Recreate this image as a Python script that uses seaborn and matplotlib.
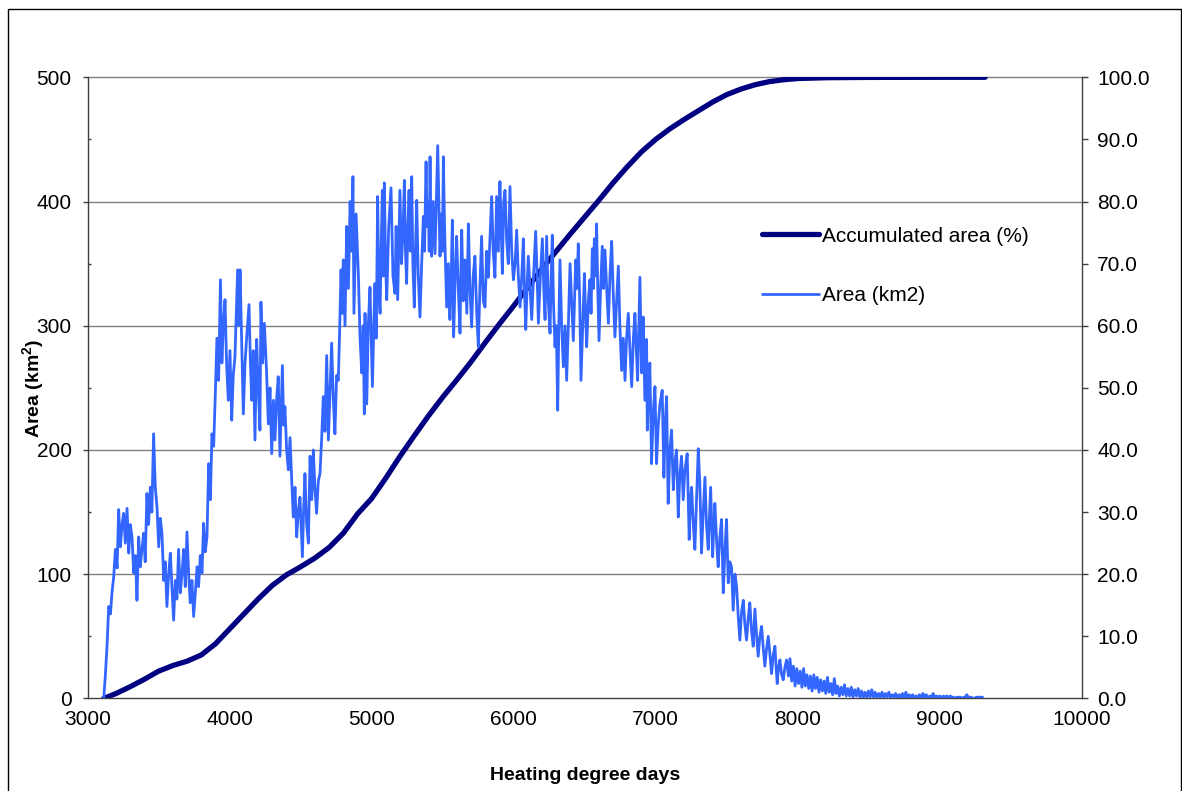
import numpy as np
import pandas as pd
import matplotlib
matplotlib.use("Agg")
import matplotlib.pyplot as plt
from matplotlib.patches import Rectangle
from matplotlib.ticker import MultipleLocator, FormatStrFormatter
import seaborn as sns

# Accumulated burnt area (%) against heating degree days
acc_hdd = [3113, 3200, 3300, 3400, 3500, 3600, 3700, 3800, 3900, 4000,
           4100, 4200, 4300, 4400, 4500, 4600, 4700, 4800, 4900, 5000,
           5100, 5200, 5300, 5400, 5500, 5600, 5700, 5800, 5900, 6000,
           6100, 6200, 6300, 6400, 6500, 6600, 6700, 6800, 6900, 7000,
           7100, 7200, 7300, 7400, 7500, 7600, 7700, 7800, 7900, 8000,
           8200, 8500, 9000, 9320]
acc_pct = [0.0, 0.8, 1.9, 3.1, 4.4, 5.3, 6.0, 7.0, 8.8, 11.2,
           13.6, 16.0, 18.2, 19.9, 21.2, 22.6, 24.3, 26.6, 29.7, 32.2,
           35.5, 39.0, 42.3, 45.5, 48.5, 51.3, 54.2, 57.3, 60.3, 63.2,
           66.2, 69.2, 72.0, 74.8, 77.5, 80.2, 83.0, 85.6, 88.0, 90.0,
           91.7, 93.2, 94.6, 96.0, 97.2, 98.1, 98.8, 99.3, 99.6, 99.8,
           99.93, 99.98, 100.0, 100.0]

# Area (km2) per heating-degree-day class
area_hdd = [
    3113, 3125, 3136, 3148, 3160, 3171, 3183, 3195, 3207, 3218, 3230, 3242, 3253, 3265, 3277, 3289,
    3300, 3312, 3324, 3336, 3347, 3359, 3370, 3382, 3394, 3405, 3417, 3429, 3441, 3452, 3464, 3476,
    3488, 3500, 3511, 3523, 3535, 3546, 3558, 3570, 3582, 3593, 3605, 3617, 3628, 3640, 3652, 3664,
    3676, 3687, 3699, 3711, 3722, 3734, 3746, 3758, 3770, 3781, 3793, 3805, 3816, 3828, 3840, 3852,
    3864, 3875, 3887, 3899, 3910, 3922, 3935, 3945, 3955, 3967, 3978, 3990, 4002, 4014, 4025, 4037,
    4056, 4065, 4073, 4084, 4096, 4108, 4120, 4136, 4146, 4155, 4166, 4178, 4190, 4201, 4213, 4220,
    4232, 4244, 4260, 4272, 4284, 4296, 4308, 4319, 4330, 4342, 4354, 4371, 4380, 4389, 4401, 4413,
    4425, 4436, 4448, 4460, 4472, 4483, 4495, 4512, 4520, 4530, 4542, 4554, 4566, 4578, 4589, 4600,
    4612, 4624, 4636, 4648, 4659, 4671, 4683, 4695, 4707, 4718, 4730, 4741, 4753, 4765, 4775, 4784,
    4792, 4800, 4812, 4824, 4836, 4848, 4859, 4868, 4875, 4890, 4906, 4918, 4930, 4940, 4948, 4953,
    4965, 4976, 4988, 5005, 5015, 5023, 5032, 5042, 5050, 5059, 5068, 5075, 5082, 5089, 5098, 5106,
    5120, 5136, 5150, 5164, 5172, 5183, 5190, 5199, 5210, 5222, 5230, 5238, 5246, 5255, 5263, 5272,
    5282, 5290, 5300, 5308, 5317, 5328, 5340, 5352, 5364, 5372, 5383, 5390, 5399, 5405, 5411, 5416,
    5422, 5433, 5446, 5455, 5465, 5473, 5481, 5490, 5498, 5505, 5510, 5516, 5522, 5528, 5540, 5551,
    5560, 5568, 5577, 5588, 5598, 5610, 5622, 5628, 5634, 5645, 5657, 5670, 5681, 5692, 5704, 5715,
    5727, 5740, 5751, 5762, 5774, 5786, 5798, 5810, 5821, 5833, 5845, 5856, 5868, 5880, 5892, 5903,
    5912, 5920, 5930, 5939, 5950, 5962, 5974, 5986, 5998, 6010, 6021, 6033, 6045, 6057, 6068, 6076,
    6085, 6094, 6103, 6115, 6127, 6140, 6155, 6165, 6174, 6188, 6202, 6212, 6221, 6232, 6244, 6256,
    6264, 6272, 6280, 6291, 6300, 6310, 6318, 6326, 6338, 6350, 6362, 6373, 6385, 6397, 6408, 6420,
    6428, 6437, 6446, 6455, 6465, 6474, 6486, 6498, 6506, 6514, 6526, 6537, 6545, 6554, 6561, 6568,
    6576, 6584, 6592, 6601, 6612, 6624, 6633, 6643, 6655, 6667, 6678, 6690, 6700, 6713, 6725, 6737,
    6748, 6760, 6772, 6784, 6795, 6807, 6819, 6831, 6843, 6854, 6864, 6873, 6889, 6901, 6912, 6924,
    6936, 6941, 6950, 6959, 6971, 6983, 6995, 7006, 7018, 7030, 7046, 7058, 7067, 7077, 7088, 7100,
    7112, 7124, 7135, 7147, 7159, 7170, 7182, 7194, 7206, 7222, 7236, 7245, 7253, 7265, 7276, 7288,
    7300, 7311, 7323, 7335, 7347, 7358, 7370, 7380, 7387, 7401, 7410, 7417, 7430, 7440, 7452, 7464,
    7476, 7488, 7499, 7511, 7522, 7534, 7546, 7558, 7570, 7582, 7593, 7605, 7617, 7628, 7640, 7652,
    7663, 7675, 7687, 7699, 7711, 7722, 7734, 7746, 7758, 7769, 7781, 7793, 7805, 7816, 7828, 7840,
    7848, 7856, 7865, 7875, 7886, 7898, 7910, 7922, 7935,
    7946, 7958, 7970, 7982, 7994, 8006, 8018, 8030, 8042, 8054, 8066, 8078, 8090, 8102, 8114, 8126,
    8138, 8150, 8162, 8174, 8186, 8198, 8210, 8222, 8234, 8246, 8258, 8270, 8282, 8294, 8306, 8318,
    8330, 8342, 8354, 8366, 8378, 8390, 8402, 8414, 8426, 8438, 8450, 8462, 8474, 8486, 8498, 8510,
    8522, 8534, 8546, 8558, 8570, 8582, 8594, 8606, 8618, 8630, 8642, 8654, 8666, 8678, 8690, 8702,
    8714, 8726, 8738, 8750, 8762, 8774, 8786, 8798, 8810, 8822, 8834, 8846, 8858, 8870, 8882, 8894,
    8906, 8918, 8930, 8942, 8954, 8966, 8978, 8990, 9002, 9014, 9026, 9038, 9050, 9062, 9074, 9086,
    9098, 9110, 9122, 9134, 9146, 9158, 9170, 9182, 9190, 9202, 9220, 9240, 9260, 9280, 9302]
area_km2 = [
    0, 20, 42, 74, 68, 85, 98, 120, 105, 152, 122, 140, 149, 125, 153, 117,
    140, 130, 101, 115, 79, 130, 106, 120, 133, 110, 165, 140, 170, 150, 213, 170,
    154, 122, 145, 133, 95, 110, 74, 100, 117, 90, 63, 95, 80, 120, 85, 100,
    120, 90, 134, 100, 77, 95, 66, 85, 106, 90, 115, 101, 141, 118, 130, 189,
    160, 213, 203, 246, 290, 256, 337, 270, 300, 321, 270, 240, 280, 224, 260, 275,
    345, 300, 345, 289, 229, 270, 291, 317, 270, 240, 280, 208, 289, 250, 216, 319,
    270, 302, 262, 221, 250, 197, 240, 208, 240, 259, 195, 268, 220, 235, 200, 184,
    210, 178, 146, 170, 130, 150, 162, 114, 150, 181, 140, 125, 195, 160, 200, 170,
    149, 175, 181, 210, 243, 215, 276, 208, 250, 286, 240, 213, 260, 256, 300, 345,
    310, 353, 300, 380, 330, 400, 360, 420, 310, 390, 342, 290, 262, 300, 229, 310,
    237, 300, 331, 251, 300, 334, 290, 404, 330, 310, 370, 409, 340, 415, 350, 321,
    380, 411, 340, 326, 380, 321, 360, 409, 350, 380, 417, 360, 334, 380, 409, 360,
    420, 350, 315, 360, 401, 340, 307, 350, 388, 360, 432, 380, 399, 360, 436, 380,
    356, 400, 358, 400, 445, 400, 356, 390, 360, 436, 400, 366, 340, 315, 350, 305,
    340, 385, 291, 340, 372, 330, 294, 340, 377, 320, 353, 310, 382, 330, 299, 340,
    356, 310, 283, 330, 372, 320, 315, 360, 339, 370, 404, 360, 339, 404, 360, 416,
    380, 342, 400, 409, 370, 350, 412, 360, 337, 350, 377, 340, 315, 340, 370, 330,
    297, 330, 356, 330, 305, 340, 376, 340, 302, 340, 370, 330, 305, 372, 320, 294,
    340, 373, 320, 283, 300, 232, 300, 353, 300, 267, 300, 256, 300, 350, 320, 288,
    320, 353, 330, 366, 320, 256, 300, 342, 310, 283, 320, 337, 310, 362, 330, 370,
    340, 382, 330, 288, 330, 364, 330, 361, 330, 302, 340, 368, 330, 291, 320, 348,
    300, 264, 290, 256, 290, 310, 280, 251, 290, 310, 280, 256, 339, 262, 307, 240,
    289, 216, 250, 270, 189, 230, 251, 189, 220, 237, 248, 178, 220, 243, 157, 200,
    216, 168, 190, 200, 146, 180, 195, 160, 184, 197, 128, 160, 170, 140, 120, 160,
    201, 173, 117, 150, 178, 140, 120, 150, 170, 114, 140, 157, 125, 106, 130, 144,
    85, 120, 144, 93, 110, 106, 71, 100, 90, 65, 47, 70, 79, 60, 47, 65,
    77, 55, 42, 72, 50, 34, 50, 58, 40, 26, 40, 50, 35, 20, 35, 42,
    25, 12, 25, 31, 20, 15, 25, 31, 18,
    32, 14, 26, 10, 24, 12, 22, 9, 24, 10, 19, 8, 18, 6, 19, 8,
    17, 5, 15, 6, 14, 4, 17, 5, 12, 3, 16, 4, 10, 2, 9, 3,
    11, 2, 8, 2, 9, 1, 7, 2, 8, 1, 6, 1, 5, 1, 6, 1,
    7, 1, 5, 1, 4, 1, 5, 1, 4, 1, 5, 1, 3, 1, 4, 0,
    3, 1, 4, 0, 5, 0, 3, 1, 3, 0, 2, 1, 3, 0, 4, 1,
    3, 0, 2, 1, 4, 0, 2, 1, 2, 0, 2, 1, 2, 0, 2, 1,
    1, 0, 1, 1, 1, 0, 1, 1, 3, 1, 1, 0, 1, 1, 1]

# Axis tick values
x_ticks = [3000, 4000, 5000, 6000, 7000, 8000, 9000, 10000]
area_ticks = [0, 100, 200, 300, 400, 500]
pct_ticks = [0, 10, 20, 30, 40, 50, 60, 70, 80, 90, 100]

NAVY = "#000080"
BLUE = "#3366FF"
AXIS_GREY = "#404040"

sns.set_style("white")
plt.rcParams["font.family"] = ["Liberation Sans", "DejaVu Sans"]
plt.rcParams["mathtext.fontset"] = "custom"
plt.rcParams["mathtext.rm"] = "Liberation Sans"
plt.rcParams["mathtext.bf"] = "Liberation Sans:bold"
plt.rcParams["text.color"] = "black"
plt.rcParams["xtick.labelcolor"] = "black"
plt.rcParams["ytick.labelcolor"] = "black"
plt.rcParams["axes.labelcolor"] = "black"

acc_df = pd.DataFrame({"hdd": acc_hdd, "pct": acc_pct})
area_df = pd.DataFrame({"hdd": area_hdd, "area": area_km2})

fig = plt.figure(figsize=(11.82, 7.91), dpi=100)
fig.patch.set_facecolor("white")

# Base axes carries the percentage curve (right scale); twin on top carries area (left scale)
ax_pct = fig.add_axes([0.0742, 0.1170, 0.8409, 0.7853])
ax_area = ax_pct.twinx()

sns.lineplot(data=acc_df, x="hdd", y="pct", ax=ax_pct, color=NAVY, linewidth=3.8,
             estimator=None, sort=False, label="Accumulated area (%)")
sns.lineplot(data=area_df, x="hdd", y="area", ax=ax_area, color=BLUE, linewidth=2.0,
             estimator=None, sort=False, label="Area (km2)")
for a in (ax_pct, ax_area):
    leg = a.get_legend()
    if leg is not None:
        leg.remove()

ax_pct.set_xlim(3000, 10000)
ax_pct.set_ylim(0, 100)
ax_area.set_ylim(0, 500)

# Horizontal gridlines at the left-axis major ticks, kept behind both series
for v in area_ticks[1:]:
    ax_pct.axhline(v / 5, color="#808080", linewidth=1.0, zorder=0, clip_on=False)

# Right axis (percent)
ax_pct.yaxis.tick_right()
ax_pct.yaxis.set_label_position("right")
ax_pct.set_yticks(pct_ticks)
ax_pct.yaxis.set_major_formatter(FormatStrFormatter("%.1f"))
ax_pct.tick_params(axis="y", which="major", direction="out", length=4.3, width=1,
                   color=AXIS_GREY, pad=7, labelsize=15, right=True, left=False,
                   labelright=True, labelleft=False)
ax_pct.set_ylabel("")

# Left axis (area)
ax_area.yaxis.tick_left()
ax_area.yaxis.set_label_position("left")
ax_area.set_yticks(area_ticks)
ax_area.yaxis.set_minor_locator(MultipleLocator(50))
ax_area.tick_params(axis="y", which="major", direction="out", length=3.6, width=1,
                    color=AXIS_GREY, pad=8, labelsize=15, left=True, right=False,
                    labelleft=True, labelright=False)
ax_area.tick_params(axis="y", which="minor", direction="in", length=2.5, width=1,
                    color=AXIS_GREY, left=True, right=False)
ax_area.set_ylabel(r"Area (km$^{\mathbf{2}}$)", fontsize=14, fontweight="bold")
ax_area.yaxis.set_label_coords(-0.041, 0.5)

# X axis
ax_pct.set_xticks(x_ticks)
ax_pct.tick_params(axis="x", which="major", direction="out", length=4.5, width=1,
                   color=AXIS_GREY, pad=4, labelsize=15)
ax_pct.set_xlabel("Heating degree days", fontsize=14, fontweight="bold", labelpad=27)

for a in (ax_pct, ax_area):
    a.grid(False)
    for s in a.spines.values():
        s.set_visible(False)
for side in ("left", "right", "bottom"):
    ax_pct.spines[side].set_visible(True)
    ax_pct.spines[side].set_color(AXIS_GREY)
    ax_pct.spines[side].set_linewidth(1.0)

# Legend without frame, to the right of the peak
handles = [ax_pct.lines[0], ax_area.lines[0]]
labels = ["Accumulated area (%)", "Area (km2)"]
ax_area.legend(handles, labels, loc="upper left", bbox_to_anchor=(762 / 1182, 1 - 226.5 / 791),
               bbox_transform=fig.transFigure, frameon=False, fontsize=15,
               borderpad=0, borderaxespad=0, handlelength=2.74, handletextpad=0.15,
               labelspacing=1.96)

# Outer chart border
fig.add_artist(Rectangle((8 / 1182, -0.01), (1180.5 - 8) / 1182, 1 - 9 / 791 + 0.01,
                         transform=fig.transFigure, fill=False, edgecolor="black",
                         linewidth=1.0))

fig.savefig("out.png", dpi=100, facecolor="white")
